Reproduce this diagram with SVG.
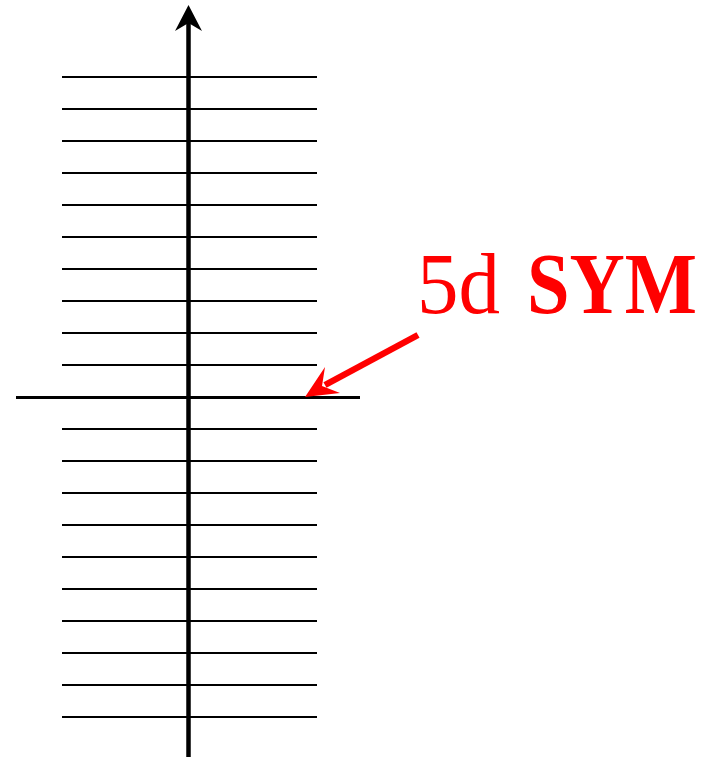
<svg xmlns="http://www.w3.org/2000/svg" width="710" height="757" viewBox="0 0 710 757">
<style>
.lv{stroke:#000;stroke-width:2}
.ax{stroke:#000;stroke-width:4.5}
.t{fill:#ff0000;font-family:"Liberation Serif",serif;font-size:86px}
</style>
<rect width="710" height="757" fill="#fff"/>
<g id="levels">
<line class="lv" x1="62" y1="77" x2="317" y2="77"/>
<line class="lv" x1="62" y1="109" x2="317" y2="109"/>
<line class="lv" x1="62" y1="141" x2="317" y2="141"/>
<line class="lv" x1="62" y1="173" x2="317" y2="173"/>
<line class="lv" x1="62" y1="205" x2="317" y2="205"/>
<line class="lv" x1="62" y1="237" x2="317" y2="237"/>
<line class="lv" x1="62" y1="269" x2="317" y2="269"/>
<line class="lv" x1="62" y1="301" x2="317" y2="301"/>
<line class="lv" x1="62" y1="333" x2="317" y2="333"/>
<line class="lv" x1="62" y1="365" x2="317" y2="365"/>
<line class="lv" x1="62" y1="429" x2="317" y2="429"/>
<line class="lv" x1="62" y1="461" x2="317" y2="461"/>
<line class="lv" x1="62" y1="493" x2="317" y2="493"/>
<line class="lv" x1="62" y1="525" x2="317" y2="525"/>
<line class="lv" x1="62" y1="557" x2="317" y2="557"/>
<line class="lv" x1="62" y1="589" x2="317" y2="589"/>
<line class="lv" x1="62" y1="621" x2="317" y2="621"/>
<line class="lv" x1="62" y1="653" x2="317" y2="653"/>
<line class="lv" x1="62" y1="685" x2="317" y2="685"/>
<line class="lv" x1="62" y1="717" x2="317" y2="717"/>
</g>
<g id="axes">
<line x1="16" y1="397.5" x2="360" y2="397.5" stroke="#000" stroke-width="3"/>
<line class="ax" x1="188.5" y1="757" x2="188.5" y2="20"/>
<path d="M188.5,5 L202,31 L188.5,23 L175,31 Z" fill="#000"/>
</g>
<g id="label">
<text class="t" x="417" y="313" textLength="83" lengthAdjust="spacingAndGlyphs">5d</text>
<text class="t" x="527" y="313" font-weight="bold" textLength="170" lengthAdjust="spacingAndGlyphs">SYM</text>
</g>
<g id="connectors">
<line x1="418" y1="335" x2="325" y2="385" stroke="#ff0000" stroke-width="6.5"/>
<path d="M305,397 L325,367 L322,386 L340,393 Z" fill="#ff0000"/>
</g>
</svg>
